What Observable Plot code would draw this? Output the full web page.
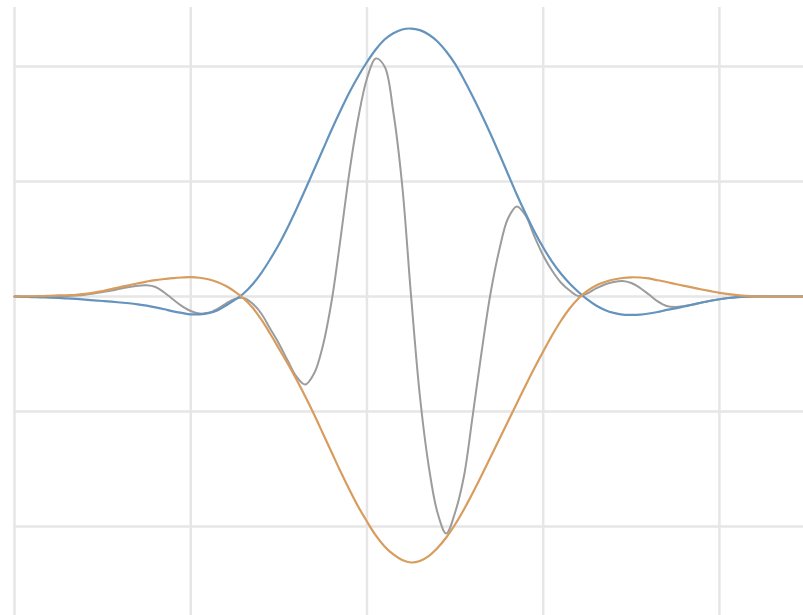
<!DOCTYPE html>
<html>
<head>
<meta charset="utf-8">
<script src="https://cdn.jsdelivr.net/npm/d3@7"></script>
<script src="https://cdn.jsdelivr.net/npm/@observablehq/plot@0.6"></script>
<style>
  html, body { margin: 0; padding: 0; background: #ffffff; }
  #chart { width: 803px; height: 615px; overflow: hidden; }
</style>
</head>
<body>
<div id="chart"></div>
<script>
// Sample positions (x)
const xs = [
  -2.00,-1.95,-1.90,-1.85,-1.80,-1.75,-1.70,-1.65,-1.60,-1.55,
  -1.50,-1.45,-1.40,-1.35,-1.30,-1.25,-1.20,-1.15,-1.10,-1.05,
  -1.00,-0.95,-0.90,-0.85,-0.80,-0.75,-0.70,-0.65,-0.60,-0.55,
  -0.50,-0.45,-0.40,-0.35,-0.30,-0.25,-0.20,-0.15,-0.10,-0.05,
   0.00, 0.05, 0.10, 0.15, 0.20, 0.25, 0.30, 0.35, 0.40, 0.45,
   0.50, 0.55, 0.60, 0.65, 0.70, 0.75, 0.80, 0.85, 0.90, 0.95,
   1.00, 1.05, 1.10, 1.15, 1.20, 1.25, 1.30, 1.35, 1.40, 1.45,
   1.50, 1.55, 1.60, 1.65, 1.70, 1.75, 1.80, 1.85, 1.90, 1.95,
   2.00, 2.05, 2.10, 2.15, 2.20, 2.25, 2.30, 2.35, 2.40, 2.45,
   2.50
];

// Upper envelope (blue)
const envelopeUpper = [
  0,-0.003,-0.005,-0.008,-0.010,-0.013,-0.016,-0.021,-0.027,-0.033,
  -0.039,-0.045,-0.052,-0.059,-0.068,-0.079,-0.094,-0.111,-0.129,-0.143,
  -0.155,-0.155,-0.145,-0.122,-0.078,-0.030,0.026,0.104,0.204,0.322,
  0.452,0.600,0.761,0.930,1.104,1.278,1.452,1.617,1.774,1.913,
  2.039,2.148,2.235,2.289,2.322,2.330,2.316,2.278,2.217,2.130,
  2.022,1.887,1.739,1.583,1.417,1.243,1.065,0.887,0.722,0.565,
  0.426,0.304,0.200,0.113,0.039,-0.026,-0.078,-0.117,-0.143,-0.157,
  -0.159,-0.157,-0.148,-0.135,-0.117,-0.104,-0.087,-0.070,-0.052,-0.037,
  -0.024,-0.013,-0.006,-0.002,0,0,0,0,0,0,
  0
];

// Lower envelope (orange)
const envelopeLower = [
  0,0,0.002,0.003,0.006,0.009,0.011,0.014,0.022,0.033,
  0.048,0.064,0.082,0.097,0.115,0.130,0.143,0.152,0.160,0.165,
  0.168,0.163,0.150,0.126,0.091,0.043,-0.017,-0.096,-0.200,-0.322,
  -0.452,-0.583,-0.722,-0.870,-1.026,-1.191,-1.357,-1.522,-1.678,-1.826,
  -1.957,-2.078,-2.174,-2.243,-2.291,-2.313,-2.300,-2.257,-2.187,-2.096,
  -1.983,-1.852,-1.709,-1.557,-1.400,-1.243,-1.087,-0.930,-0.774,-0.622,
  -0.478,-0.339,-0.213,-0.104,-0.017,0.048,0.096,0.126,0.148,0.161,
  0.167,0.165,0.157,0.141,0.126,0.109,0.093,0.077,0.061,0.046,
  0.032,0.021,0.012,0.006,0.003,0,0,0,0,0,
  0
];

// Oscillating signal (grey)
const signal = [
  0,0,0,0,0,0.002,0.004,0.009,0.016,0.026,
  0.039,0.052,0.068,0.083,0.094,0.097,0.083,0.035,-0.026,-0.083,
  -0.126,-0.148,-0.142,-0.109,-0.061,-0.022,-0.013,-0.061,-0.148,-0.278,
  -0.409,-0.557,-0.696,-0.765,-0.670,-0.426,-0.035,0.504,1.078,1.548,
  1.896,2.070,2.000,1.600,0.965,0.009,-0.861,-1.470,-1.878,-2.061,
  -1.878,-1.565,-1.035,-0.487,0.017,0.400,0.678,0.783,0.704,0.522,
  0.357,0.226,0.122,0.052,0.004,0.026,0.070,0.104,0.126,0.135,
  0.117,0.074,0.017,-0.043,-0.083,-0.091,-0.083,-0.070,-0.052,-0.037,
  -0.024,-0.013,-0.006,-0.002,0,0,0,0,0,0,
  0
];

// Grid positions
const gridX = [-2, -1, 0, 1, 2];
const gridY = [-2, -1, 0, 1, 2];

const rows = xs.map((x, i) => ({x, upper: envelopeUpper[i], lower: envelopeLower[i], sig: signal[i]}));

const chart = Plot.plot({
  width: 803,
  height: 615,
  marginLeft: 14,
  marginRight: 0,
  marginTop: 7,
  marginBottom: 0,
  style: {background: "#ffffff"},
  x: {domain: [-2, 2.477], axis: null},
  y: {domain: [-2.774, 2.513], axis: null},
  marks: [
    Plot.ruleX(gridX, {stroke: "#e6e6e6", strokeWidth: 2.5, strokeOpacity: 1}),
    Plot.ruleY(gridY, {x1: -2, x2: 2.6, stroke: "#e6e6e6", strokeWidth: 2.5, strokeOpacity: 1}),
    Plot.line(rows, {x: "x", y: "sig", stroke: "#9c9c9c", strokeWidth: 2, curve: "catmull-rom"}),
    Plot.line(rows, {x: "x", y: "upper", stroke: "#6494bd", strokeWidth: 2.2, curve: "catmull-rom"}),
    Plot.line(rows, {x: "x", y: "lower", stroke: "#d89c5e", strokeWidth: 2.2, curve: "catmull-rom"})
  ]
});
document.getElementById("chart").appendChild(chart);
</script>
</body>
</html>
